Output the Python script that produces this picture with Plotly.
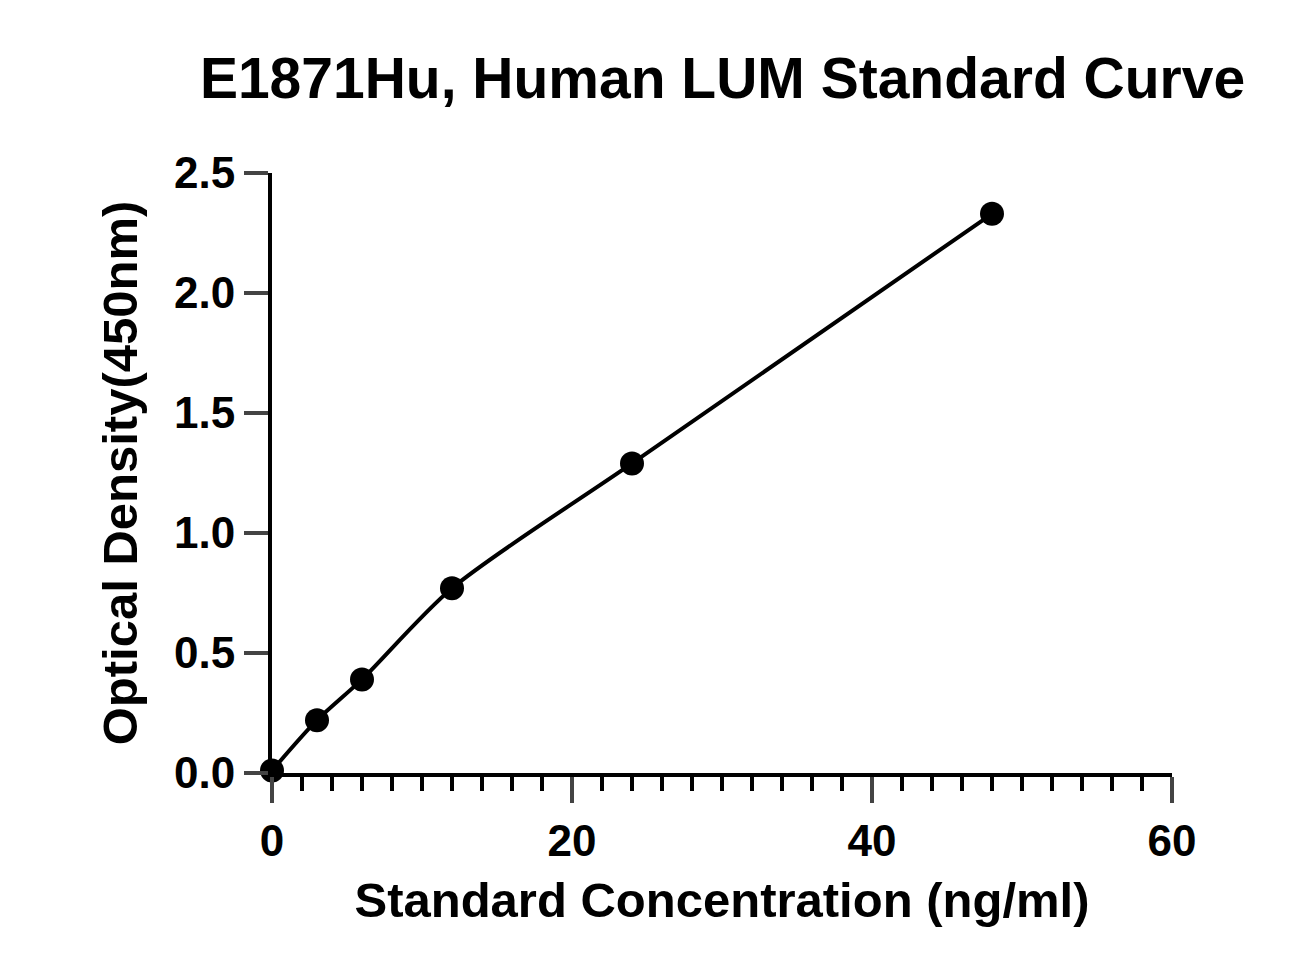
import plotly.graph_objects as go

conc = [0, 3, 6, 12, 24, 48]
od = [0.01, 0.22, 0.39, 0.77, 1.29, 2.33]

fig = go.Figure()
fig.add_trace(go.Scatter(x=conc, y=od, mode="lines",
                         line=dict(color="black", width=4, shape="spline", smoothing=0.8),
                         cliponaxis=False, showlegend=False))
fig.add_trace(go.Scatter(x=conc, y=od, mode="markers", marker=dict(color="black", size=24),
                         cliponaxis=False, showlegend=False))

font = "Liberation Sans, Arial, sans-serif"
fig.update_layout(
    width=1311, height=975,
    paper_bgcolor="white", plot_bgcolor="white",
    margin=dict(l=264, r=147, t=165, b=210),
    font=dict(family=font, color="black"),
    title=dict(text="<b>E1871Hu, Human LUM Standard Curve</b>", x=0.545, xanchor="center",
               y=0.928, yanchor="middle", font=dict(size=57)),
)
fig.update_xaxes(
    range=[0, 60], tickvals=[0, 20, 40, 60], ticktext=["<b>0</b>", "<b>20</b>", "<b>40</b>", "<b>60</b>"],
    ticks="outside", ticklen=26, tickwidth=4, showline=True, linewidth=4, linecolor="black",
    showgrid=False, zeroline=False, tickfont=dict(size=44),
    minor=dict(dtick=2, tick0=0, ticks="outside", ticklen=14, tickwidth=4, tickcolor="black", showgrid=False),
    title=dict(text="<b>Standard Concentration (ng/ml)</b>", font=dict(size=49), standoff=20),
)
fig.update_yaxes(
    range=[0, 2.5], tickvals=[0, 0.5, 1, 1.5, 2, 2.5],
    ticktext=["<b>0.0</b>", "<b>0.5</b>", "<b>1.0</b>", "<b>1.5</b>", "<b>2.0</b>", "<b>2.5</b>"],
    ticks="outside", ticklen=24, tickwidth=4, showline=True, linewidth=4, linecolor="black",
    showgrid=False, zeroline=False, tickfont=dict(size=44),
    title=dict(text="<b>Optical Density(450nm)</b>", font=dict(size=49), standoff=22),
)
fig.write_html("out.html")
